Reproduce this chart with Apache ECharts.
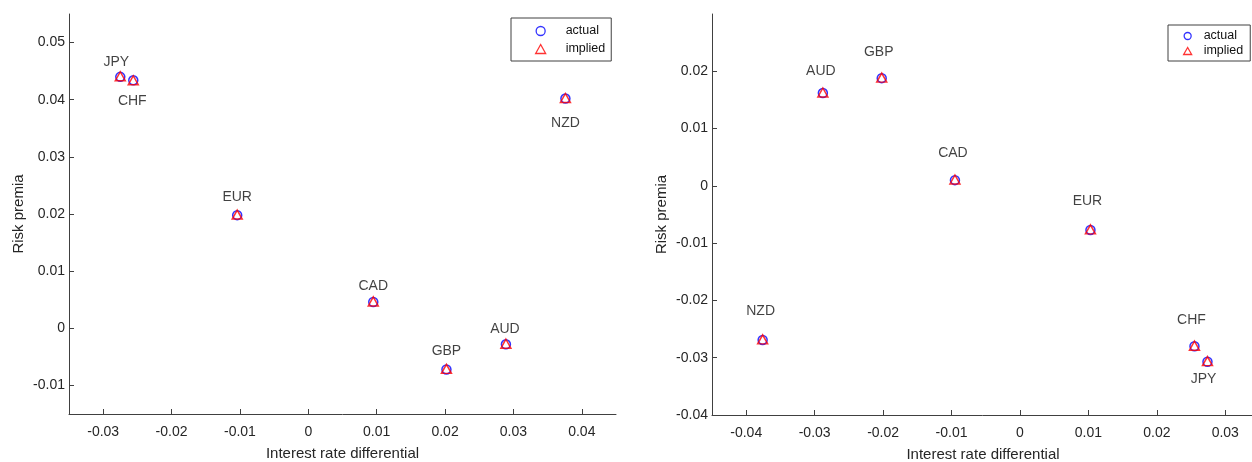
<!DOCTYPE html>
<html>
<head>
<meta charset="UTF-8">
<title>Risk premia vs interest rate differential</title>
<script src="https://cdn.jsdelivr.net/npm/echarts@6/dist/echarts.min.js"></script>
</head>
<body style="margin:0;background:#fff">
<div id="main" style="width:1252px;height:462px;"></div>
<script>
var currencies = ['JPY', 'CHF', 'EUR', 'NZD', 'CAD', 'GBP', 'AUD'];

// left panel
var leftX       = [-0.0275, -0.0256, -0.0104, 0.0376, 0.0095, 0.0202, 0.0289];
var leftActual  = [0.0440, 0.0434, 0.0198, 0.0402, 0.0046, -0.0072, -0.0028];
var leftImplied = [0.0441, 0.0434, 0.0199, 0.0403, 0.0047, -0.0071, -0.0027];
var leftXTicks  = [-0.03, -0.02, -0.01, 0, 0.01, 0.02, 0.03, 0.04];
var leftYTicks  = [-0.01, 0, 0.01, 0.02, 0.03, 0.04, 0.05];

// right panel
var rightX       = [0.0274, 0.0255, 0.0103, -0.0376, -0.0095, -0.0202, -0.0288];
var rightActual  = [-0.0307, -0.0280, -0.0077, -0.0269, 0.0010, 0.0188, 0.0162];
var rightImplied = [-0.0306, -0.0279, -0.0076, -0.0268, 0.0011, 0.0189, 0.0163];
var rightXTicks  = [-0.04, -0.03, -0.02, -0.01, 0, 0.01, 0.02, 0.03];
var rightYTicks  = [-0.04, -0.03, -0.02, -0.01, 0, 0.01, 0.02];

// where the currency names sit relative to their marker (px)
var leftLabelOffset = {JPY: [-4, -14], CHF: [-1, 21], EUR: [0, -17], NZD: [0, 25], CAD: [0, -15], GBP: [0, -18], AUD: [-1, -15]};
var rightLabelOffset = {JPY: [-4, 18], CHF: [-3, -26], EUR: [-3, -28], NZD: [-2, -28], CAD: [-2, -26], GBP: [-3, -25], AUD: [-2, -21]};

var font = 'Liberation Sans, Arial, Helvetica, sans-serif';
var axisColor = '#404040';

function points(xs, ys, offsets) {
    return xs.map(function (x, i) {
        var item = {name: currencies[i], value: [x, ys[i]]};
        if (offsets) {
            item.label = {
                show: true, position: 'inside', offset: offsets[currencies[i]],
                formatter: '{b}', color: '#111', fontSize: 14, fontFamily: font,
                textBorderWidth: 0
            };
        }
        return item;
    });
}

function axis(gridIndex, min, max, ticks, name, isY) {
    return {
        type: 'value', gridIndex: gridIndex, min: min, max: max,
        name: name, nameLocation: 'middle', nameGap: isY ? 43 : 32,
        nameMoveOverlap: false,
        nameTextStyle: {fontSize: 15, color: '#262626', fontFamily: font},
        axisLine: {show: true, onZero: false, lineStyle: {color: axisColor, width: 1}},
        axisTick: {show: true, inside: true, length: 5, customValues: ticks, lineStyle: {color: axisColor}},
        axisLabel: {
            customValues: ticks, margin: isY ? 4 : 11, fontSize: 14, color: '#262626', fontFamily: font,
            formatter: function (v) { return String(v); }
        },
        splitLine: {show: false}
    };
}

function scatter(name, idx, xs, ys, offsets) {
    var isCircle = name === 'actual';
    return {
        name: name, type: 'scatter', xAxisIndex: idx, yAxisIndex: idx,
        symbol: isCircle ? 'circle' : 'triangle',
        symbolSize: isCircle ? 9 : [10, 9],
        itemStyle: {
            color: 'rgba(0,0,0,0)',
            borderColor: isCircle ? '#0000ff' : '#ff0000',
            borderWidth: 1.5
        },
        emphasis: {disabled: true},
        data: points(xs, ys, offsets)
    };
}

var legendItems = [
    {name: 'actual', icon: 'circle', itemStyle: {color: 'rgba(0,0,0,0)', borderColor: '#0000ff', borderWidth: 1.3}},
    {name: 'implied', icon: 'triangle', itemStyle: {color: 'rgba(0,0,0,0)', borderColor: '#ff0000', borderWidth: 1.3}}
];

var myChart = echarts.init(document.getElementById('main'));
myChart.setOption({
    animation: false,
    backgroundColor: '#fff',
    grid: [
        {left: 69, top: 14, width: 547, height: 400, containLabel: false, outerBoundsMode: 'none'},
        {left: 712, top: 14, width: 542, height: 401, containLabel: false, outerBoundsMode: 'none'}
    ],
    legend: [
        {
            data: legendItems, orient: 'vertical', left: 511, top: 18,
            itemWidth: 10, itemHeight: 9, itemGap: 4, padding: [6, 6, 5, 24],
            borderColor: axisColor, borderWidth: 1, backgroundColor: '#fff', selectedMode: false,
            textStyle: {fontSize: 12.5, lineHeight: 14, color: '#111', fontFamily: font, padding: [0, 0, 0, 15]}
        },
        {
            data: legendItems, orient: 'vertical', left: 1168, top: 25,
            itemWidth: 8, itemHeight: 7, itemGap: 1, padding: [4, 7, 3, 15],
            borderColor: axisColor, borderWidth: 1, backgroundColor: '#fff', selectedMode: false,
            textStyle: {fontSize: 12.5, lineHeight: 14, color: '#111', fontFamily: font, padding: [0, 0, 0, 7]}
        }
    ],
    xAxis: [
        axis(0, -0.035, 0.045, leftXTicks, 'Interest rate differential', false),
        axis(1, -0.045, 0.0342, rightXTicks, 'Interest rate differential', false)
    ],
    yAxis: [
        axis(0, -0.015, 0.055, leftYTicks, 'Risk premia', true),
        axis(1, -0.04, 0.03, rightYTicks, 'Risk premia', true)
    ],
    series: [
        scatter('actual', 0, leftX, leftActual),
        scatter('implied', 0, leftX, leftImplied, leftLabelOffset),
        scatter('actual', 1, rightX, rightActual),
        scatter('implied', 1, rightX, rightImplied, rightLabelOffset)
    ]
});
</script>
</body>
</html>
